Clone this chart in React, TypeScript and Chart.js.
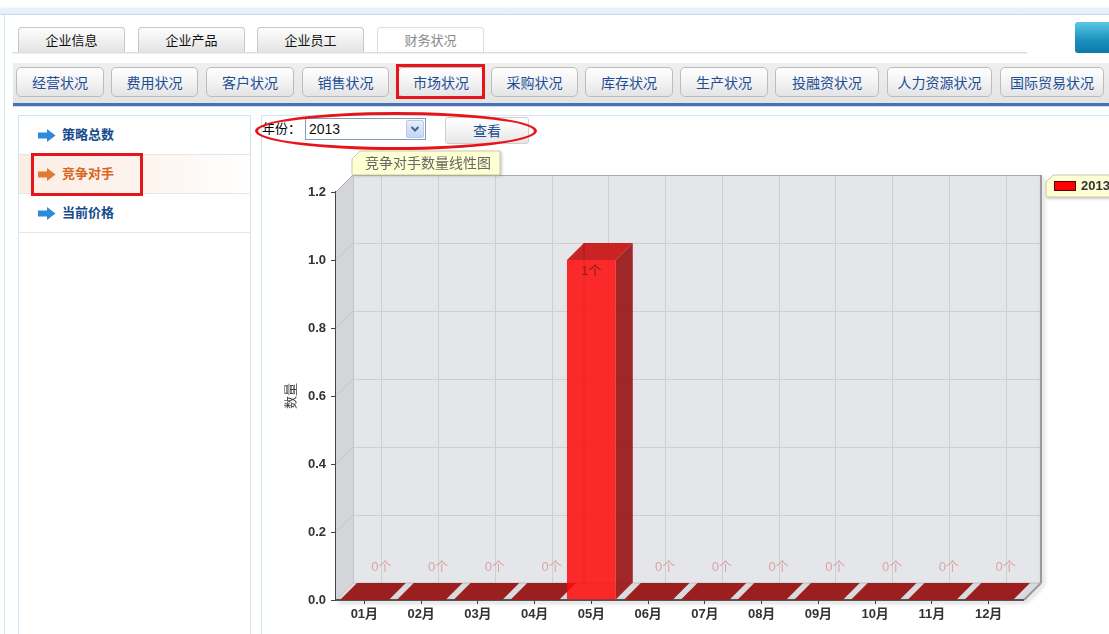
import React, { useEffect, useRef } from 'react';
import { Chart, registerables } from 'chart.js';

Chart.register(...registerables);

// ---------- data ----------
const months = ['01月', '02月', '03月', '04月', '05月', '06月', '07月', '08月', '09月', '10月', '11月', '12月'];
const competitorCounts = [0, 0, 0, 0, 1, 0, 0, 0, 0, 0, 0, 0];
const seriesYear = '2013';
const yMin = 0;
const yMax = 1.2;
const yStep = 0.2;
const unitLabel = '个';
const chartTitle = '竞争对手数量线性图';
const yAxisTitle = '数量';

const mainTabs = ['企业信息', '企业产品', '企业员工', '财务状况'];
const subButtons = ['经营状况', '费用状况', '客户状况', '销售状况', '市场状况', '采购状况', '库存状况', '生产状况', '投融资状况', '人力资源状况', '国际贸易状况'];
const sideMenu = ['策略总数', '竞争对手', '当前价格'];

// ---------- style constants ----------
const DX = 17;
const DY = -17;
const BOX_EXTRA_RIGHT = 7;
const CJK = '"Noto Sans CJK SC", "Noto Sans", sans-serif';
const LAT = '"Liberation Sans", Arial, "Noto Sans CJK SC", sans-serif';

function poly(ctx: CanvasRenderingContext2D, pts: number[][], fill?: string, stroke?: string, lw = 1) {
  ctx.beginPath();
  pts.forEach((p, i) => (i === 0 ? ctx.moveTo(p[0], p[1]) : ctx.lineTo(p[0], p[1])));
  ctx.closePath();
  if (fill) {
    ctx.fillStyle = fill;
    ctx.fill();
  }
  if (stroke) {
    ctx.strokeStyle = stroke;
    ctx.lineWidth = lw;
    ctx.stroke();
  }
}

function line(ctx: CanvasRenderingContext2D, x1: number, y1: number, x2: number, y2: number, color: string, lw = 1) {
  ctx.beginPath();
  ctx.moveTo(x1, y1);
  ctx.lineTo(x2, y2);
  ctx.strokeStyle = color;
  ctx.lineWidth = lw;
  ctx.stroke();
}

const threeDPlugin = {
  id: 'threeD',
  beforeDatasetsDraw(chart: any) {
    const { ctx, chartArea: a, scales } = chart;
    const xs = scales.x;
    const ys = scales.y;
    const L = a.left;
    const R = a.right + BOX_EXTRA_RIGHT;
    const T = a.top;
    const B = a.bottom;
    ctx.save();
    // left wall
    poly(ctx, [[L, T], [L + DX, T + DY], [L + DX, B + DY], [L, B]], '#D3D5D8');
    // back wall
    ctx.fillStyle = '#E4E6E9';
    ctx.fillRect(L + DX, T + DY, R - L, B - T);
    // floor
    poly(ctx, [[L, B], [L + DX, B + DY], [R + DX, B + DY], [R, B]], '#D9DBDE');
    // horizontal grid (back wall + left wall)
    ys.ticks.forEach((t: any) => {
      const py = ys.getPixelForValue(t.value);
      line(ctx, L + DX, py + DY + 0.5, R + DX, py + DY + 0.5, '#CDCFD2');
      line(ctx, L, py, L + DX, py + DY, '#C4C6C9');
    });
    // vertical grid at category centres
    xs.ticks.forEach((_t: any, i: number) => {
      const px = Math.round(xs.getPixelForTick(i) + DX) + 0.5;
      line(ctx, px, T + DY, px, B + DY, '#CDCFD2');
    });
    // edges
    line(ctx, L + DX + 0.5, T + DY, L + DX + 0.5, B + DY, '#C2C4C7');
    line(ctx, L + DX, B + DY, R + DX, B + DY, '#C2C4C7');
    line(ctx, L + DX, T + DY + 0.5, R + DX, T + DY + 0.5, '#A8A8A8');
    line(ctx, L, T, L + DX, T + DY, '#A8A8A8');
    ctx.save();
    ctx.shadowColor = 'rgba(0,0,0,0.25)';
    ctx.shadowBlur = 4;
    ctx.shadowOffsetX = 2;
    ctx.shadowOffsetY = 2;
    line(ctx, R + DX, T + DY, R + DX, B + DY, '#9A9A9A', 2);
    line(ctx, R + DX, B + DY, R, B, '#9A9A9A', 2);
    line(ctx, L, B, R, B, '#555', 2);
    ctx.restore();

    // bars: zero-height tops, side and top faces
    const meta = chart.getDatasetMeta(0);
    meta.data.forEach((bar: any) => {
      const { x, y, base, width } = bar.getProps(['x', 'y', 'base', 'width'], true);
      const l = x - width / 2;
      const r = x + width / 2;
      if (base - y > 0.5) {
        poly(ctx, [[r, y], [r + DX, y + DY], [r + DX, base + DY], [r, base]], 'rgba(150,12,12,0.88)');
        poly(ctx, [[l, y], [l + DX, y + DY], [r + DX, y + DY], [r, y]], 'rgba(200,18,18,0.92)');
        line(ctx, l + DX, y + DY, l + DX, base + DY, 'rgba(120,0,0,0.35)');
      } else {
        poly(ctx, [[l, base], [l + DX, base + DY], [r + DX, base + DY], [r, base]], '#9C1F1F');
      }
    });
    ctx.restore();
  },
  afterDatasetsDraw(chart: any) {
    const { ctx } = chart;
    const meta = chart.getDatasetMeta(0);
    const values = chart.data.datasets[0].data;
    ctx.save();
    ctx.font = `13px ${LAT}`;
    ctx.textAlign = 'center';
    ctx.textBaseline = 'middle';
    meta.data.forEach((bar: any, i: number) => {
      const { x, y, base } = bar.getProps(['x', 'y', 'base'], true);
      const v = values[i];
      if (base - y > 0.5) {
        ctx.fillStyle = '#8E1A1A';
        ctx.fillText(`${v}${unitLabel}`, x, y + 11);
      } else {
        ctx.fillStyle = '#DBA4A4';
        ctx.fillText(`${v}${unitLabel}`, x + DX, base + DY - 16);
      }
    });
    ctx.restore();
  },
  afterDraw(chart: any) {
    const { ctx, chartArea: a } = chart;
    const L = a.left;
    const R = a.right + BOX_EXTRA_RIGHT;
    const T = a.top;
    ctx.save();
    // title tab
    ctx.font = `14px ${CJK}`;
    const tw = ctx.measureText(chartTitle).width;
    const tl = L + DX - 1;
    const tb = T + DY;
    const th = 24;
    const tr = tl + tw + 22;
    ctx.save();
    ctx.shadowColor = 'rgba(0,0,0,0.2)';
    ctx.shadowBlur = 3;
    ctx.shadowOffsetX = 2;
    ctx.shadowOffsetY = 1;
    poly(ctx, [[tl, tb], [tl, tb - th + 8], [tl + 8, tb - th], [tr, tb - th], [tr, tb]], '#FFFFD4');
    ctx.restore();
    poly(ctx, [[tl, tb], [tl, tb - th + 8], [tl + 8, tb - th], [tr, tb - th], [tr, tb]], undefined, '#C9C9A8');
    ctx.fillStyle = '#666';
    ctx.textAlign = 'center';
    ctx.textBaseline = 'middle';
    ctx.fillText(chartTitle, (tl + tr) / 2 + 2, tb - th / 2);

    // legend tab
    const ds = chart.data.datasets[0];
    const ll = R + DX + 5;
    const lt = T + DY;
    const lh = 22;
    const lr = chart.width + 10;
    ctx.save();
    ctx.shadowColor = 'rgba(0,0,0,0.2)';
    ctx.shadowBlur = 3;
    ctx.shadowOffsetX = 1;
    ctx.shadowOffsetY = 2;
    poly(ctx, [[ll, lt + lh], [ll, lt + 7], [ll + 7, lt], [lr, lt], [lr, lt + lh]], '#FFFFD4');
    ctx.restore();
    poly(ctx, [[ll, lt + lh], [ll, lt + 7], [ll + 7, lt], [lr, lt], [lr, lt + lh]], undefined, '#C9C9A8');
    ctx.fillStyle = '#FF0000';
    ctx.fillRect(ll + 8.5, lt + 6.5, 21, 9);
    ctx.strokeStyle = '#5A0000';
    ctx.lineWidth = 1;
    ctx.strokeRect(ll + 8.5, lt + 6.5, 21, 9);
    ctx.font = `bold 13px ${LAT}`;
    ctx.fillStyle = '#333';
    ctx.textAlign = 'left';
    ctx.textBaseline = 'middle';
    ctx.fillText(ds.label, ll + 35, lt + 11);
    ctx.restore();
  },
};

function ChartCanvas() {
  const ref = useRef<HTMLCanvasElement | null>(null);
  useEffect(() => {
    if (!ref.current) return;
    const chart = new Chart(ref.current, {
      type: 'bar',
      data: {
        labels: months,
        datasets: [
          {
            label: seriesYear,
            data: competitorCounts,
            backgroundColor: 'rgba(255,10,10,0.86)',
            borderWidth: 0,
            categoryPercentage: 0.86,
            barPercentage: 1,
          },
        ],
      },
      options: {
        animation: false,
        responsive: false,
        devicePixelRatio: 1,
        layout: { padding: { top: 46, right: 92, bottom: 0, left: 0 } },
        plugins: {
          legend: { display: false },
          tooltip: { enabled: false },
          title: { display: false },
        },
        scales: {
          x: {
            afterFit: (s: any) => {
              s.height = 34;
            },
            grid: { display: true, drawOnChartArea: false, offset: false, color: '#444', tickLength: 4 },
            border: { display: false },
            ticks: { color: '#333', font: { family: LAT, size: 13, weight: 'bold' }, padding: 3, maxRotation: 0 },
          },
          y: {
            min: yMin,
            max: yMax,
            afterFit: (s: any) => {
              s.width = 74;
            },
            grid: { display: true, drawOnChartArea: false, color: '#444', tickLength: 5 },
            border: { display: true, color: '#444', width: 2 },
            ticks: {
              stepSize: yStep,
              color: '#333',
              padding: 5,
              font: { family: LAT, size: 13, weight: 'bold' },
              callback: (v: any) => Number(v).toFixed(1),
            },
            title: {
              display: true,
              text: yAxisTitle,
              color: '#444',
              font: { family: CJK, size: 13 },
              padding: { top: 20, bottom: 0 },
            },
          },
        },
      } as any,
      plugins: [threeDPlugin],
    });
    return () => chart.destroy();
  }, []);
  return (
    <canvas
      ref={ref}
      width={847}
      height={488}
      style={{ position: 'absolute', left: 262, top: 146, width: 847, height: 488 }}
    />
  );
}

const ArrowIcon = ({ color }: { color: string }) => (
  <svg width="18" height="13" style={{ position: 'absolute', left: 19, top: 13 }}>
    <polygon points="0,3.5 9,3.5 9,0 17.5,6.5 9,13 9,9.5 0,9.5" fill={color} />
  </svg>
);

export default function App() {
  const tabLefts = [18, 138, 257, 377];
  const btnRanges = [
    [16, 88], [111, 87], [206, 88], [302, 87], [398, 86], [491, 87],
    [585, 88], [680, 88], [775, 104], [887, 105], [1000, 104],
  ];
  return (
    <div
      style={{
        position: 'fixed',
        left: 0,
        top: 0,
        width: 1109,
        height: 634,
        overflow: 'hidden',
        background: '#fff',
        fontFamily: CJK,
      }}
    >
      {/* top band */}
      <div
        style={{
          position: 'absolute', left: 0, top: 0, width: 1109, height: 14,
          background: 'linear-gradient(#ffffff 0%, #ffffff 50%, #eaf2fb 60%, #e6eff9 100%)',
          borderBottom: '1px solid #c8d8ee',
        }}
      />
      <div style={{ position: 'absolute', left: 4, top: 15, width: 1, height: 619, background: '#cfe7f7' }} />

      {/* tabs */}
      <div style={{ position: 'absolute', left: 12, top: 52, width: 1015, height: 1, background: '#dcdcdc' }} />
      <div style={{ position: 'absolute', left: 12, top: 53, width: 1015, height: 1, background: '#f0f0f0' }} />
      {mainTabs.map((t, i) => {
        const active = i === mainTabs.length - 1;
        return (
          <div
            key={t}
            style={{
              position: 'absolute', left: tabLefts[i], top: 27, width: 107, height: 25,
              boxSizing: 'border-box',
              border: `1px solid ${active ? '#dddddd' : '#c8c8c8'}`,
              borderBottom: 'none',
              borderRadius: '4px 4px 0 0',
              background: active ? '#ffffff' : 'linear-gradient(#fdfdfd, #e4e4e4)',
              color: active ? '#8a8a8a' : '#111',
              fontSize: 13, lineHeight: '24px', textAlign: 'center',
            }}
          >
            {t}
          </div>
        );
      })}
      <div
        style={{
          position: 'absolute', left: 1075, top: 22, width: 40, height: 31, borderRadius: 3,
          background: 'linear-gradient(#5cc8e4, #1a8fbd 60%, #0d7aa8)',
        }}
      />

      {/* sub button bar */}
      <div
        style={{
          position: 'absolute', left: 13, top: 63, width: 1096, height: 40,
          background: 'linear-gradient(#efefef, #e4e4e4)',
        }}
      />
      <div style={{ position: 'absolute', left: 13, top: 103, width: 1096, height: 3, background: '#4672b8' }} />
      <div style={{ position: 'absolute', left: 13, top: 106, width: 1096, height: 1, background: '#c9d8ee' }} />
      {subButtons.map((b, i) => (
        <div
          key={b}
          style={{
            position: 'absolute', left: btnRanges[i][0], top: 67, width: btnRanges[i][1], height: 30,
            boxSizing: 'border-box', border: '1px solid #bcbcbc', borderRadius: 5,
            background: 'linear-gradient(#ffffff, #f3f3f3 50%, #e4e4e4)',
            color: '#1c4d95', fontSize: 14, lineHeight: '28px', textAlign: 'center',
          }}
        >
          {b}
        </div>
      ))}
      <div
        style={{
          position: 'absolute', left: 396, top: 64, width: 89, height: 35,
          boxSizing: 'border-box', border: '3px solid #e8141b',
        }}
      />

      {/* left panel */}
      <div
        style={{
          position: 'absolute', left: 18, top: 115, width: 233, height: 530, boxSizing: 'border-box',
          borderLeft: '1px solid #cfe7f7', borderRight: '1px solid #cfe7f7', borderTop: '1px solid #cfe7f7',
        }}
      >
        {sideMenu.map((m, i) => {
          const active = i === 1;
          return (
            <div
              key={m}
              style={{
                position: 'absolute', left: 0, top: i * 39, width: 231, height: 39, boxSizing: 'border-box',
                borderBottom: '1px solid #e6e6e6',
                background: active ? 'linear-gradient(to right, #fbeee5, #fdf4ee 55%, #ffffff)' : 'transparent',
                boxShadow: i === 0 ? '0 1px 2px rgba(0,0,0,0.06)' : undefined,
              }}
            >
              <ArrowIcon color={active ? '#e07a35' : '#2f8ad8'} />
              <div
                style={{
                  position: 'absolute', left: 43, top: 9, fontSize: 13, fontWeight: 'bold',
                  color: active ? '#d9651f' : '#174a8c', lineHeight: '18px',
                }}
              >
                {m}
              </div>
            </div>
          );
        })}
      </div>
      <div
        style={{
          position: 'absolute', left: 31, top: 153, width: 112, height: 43,
          boxSizing: 'border-box', border: '3px solid #e8141b',
        }}
      />

      {/* right panel */}
      <div
        style={{
          position: 'absolute', left: 261, top: 115, width: 860, height: 530, boxSizing: 'border-box',
          borderLeft: '1px solid #cfe7f7', borderTop: '1px solid #cfe7f7',
        }}
      />
      <div style={{ position: 'absolute', left: 262, top: 119, fontSize: 13, lineHeight: '18px', color: '#000' }}>年份：</div>
      <div
        style={{
          position: 'absolute', left: 305, top: 118, width: 121, height: 22, boxSizing: 'border-box',
          border: '1px solid #7f9db9', background: '#fff',
        }}
      >
        <div style={{ position: 'absolute', left: 3, top: 1, fontSize: 14, fontFamily: LAT, color: '#111', lineHeight: '18px' }}>
          {seriesYear}
        </div>
        <div
          style={{
            position: 'absolute', right: 1, top: 1, width: 18, height: 18, boxSizing: 'border-box',
            border: '1px solid #b7c9e6', borderRadius: 2,
            background: 'linear-gradient(#e6effb, #c3d6f3)',
          }}
        >
          <svg width="16" height="16" style={{ position: 'absolute', left: 0, top: 0 }}>
            <polyline points="4.5,6 8,9.5 11.5,6" fill="none" stroke="#4d6185" strokeWidth="2" />
          </svg>
        </div>
      </div>
      <div
        style={{
          position: 'absolute', left: 445, top: 117, width: 84, height: 27, boxSizing: 'border-box',
          border: '1px solid #cfcfcf', borderRadius: 3,
          background: 'linear-gradient(#ffffff, #f2f2f2 60%, #e6e6e6)',
          color: '#1c4d95', fontSize: 14, lineHeight: '24px', textAlign: 'center',
        }}
      >
        查看
      </div>

      <ChartCanvas />

      <div
        style={{
          position: 'absolute', left: 255, top: 112, width: 282, height: 38,
          boxSizing: 'border-box', border: '3px solid #e8141b', borderRadius: '50%',
        }}
      />
    </div>
  );
}
